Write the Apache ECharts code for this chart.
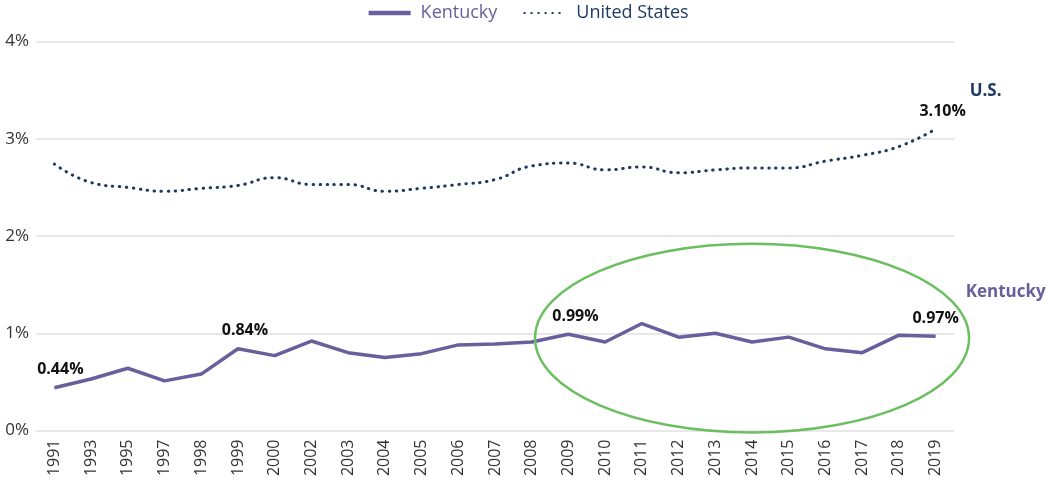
<!DOCTYPE html>
<html>
<head>
<meta charset="utf-8">
<script src="https://cdn.jsdelivr.net/npm/echarts@6/dist/echarts.min.js"></script>
<style>
html,body{margin:0;padding:0;background:#fff;}
#chart{width:1055px;height:487px;}
</style>
</head>
<body>
<div id="chart"></div>
<script>
const years = ['1991','1993','1995','1997','1998','1999','2000','2002','2003','2004','2005','2006','2007','2008','2009','2010','2011','2012','2013','2014','2015','2016','2017','2018','2019'];
const kentucky = [0.44,0.53,0.64,0.51,0.58,0.84,0.77,0.92,0.80,0.75,0.79,0.88,0.89,0.91,0.99,0.91,1.10,0.96,1.00,0.91,0.96,0.84,0.80,0.98,0.97];
const unitedStates = [2.74,2.55,2.50,2.46,2.49,2.52,2.60,2.53,2.53,2.46,2.49,2.53,2.58,2.72,2.75,2.68,2.71,2.65,2.68,2.70,2.70,2.77,2.83,2.92,3.10];
const yTicks = [0,1,2,3,4];
const kyLabelIdx = {0:[6,0], 5:[7,0], 14:[7,0], 24:[0,0]};
const usLabelIdx = {24:[7,0]};

const FONT = 'Open Sans';
const KY = '#6a5e9c';
const US = '#1d3a63';

function withLabels(vals, idxMap){
  return vals.map((v,i)=>{
    if(idxMap[i]){
      return {value:v, label:{show:true, position:'top', distance:10, offset:idxMap[i],
        formatter: (p)=>p.value.toFixed(2)+'%',
        fontFamily:FONT, fontWeight:'bold', fontSize:16, color:'#111'}};
    }
    return v;
  });
}

const chart = echarts.init(document.getElementById('chart'));
chart.setOption({
  animation:false,
  textStyle:{fontFamily:FONT},
  legend:{
    top:-1, left:'center', itemWidth:42, itemHeight:12, itemGap:26,
    textStyle:{fontSize:18, fontFamily:FONT, padding:[0,0,0,5]},
    itemStyle:{color:'rgba(0,0,0,0)', borderWidth:0, opacity:0},
    data:[{name:'Kentucky', textStyle:{color:KY}, lineStyle:{width:4.5}},{name:'United States', textStyle:{color:US}}]
  },
  grid:{left:36, right:101, top:41.5, bottom:56.5, containLabel:false},
  xAxis:{
    type:'category', data:years, boundaryGap:true,
    axisLine:{show:false}, axisTick:{show:false},
    axisLabel:{rotate:90, fontSize:16, color:'#333', margin:9, interval:0, fontFamily:FONT}
  },
  yAxis:{
    type:'value', min:yTicks[0], max:yTicks[yTicks.length-1], interval:1,
    axisLabel:{formatter:'{value}%', fontSize:17, color:'#333', margin:7, fontFamily:FONT},
    splitLine:{lineStyle:{color:'#e0e0e0', width:1.5}},
    axisLine:{show:false}, axisTick:{show:false}
  },
  series:[
    {name:'Kentucky', type:'line', data:withLabels(kentucky, kyLabelIdx), showSymbol:true, showAllSymbol:true,
      symbol:'circle', symbolSize:0,
      lineStyle:{color:KY, width:3.5}, itemStyle:{color:KY}, z:3},
    {name:'United States', type:'line', data:withLabels(unitedStates, usLabelIdx), smooth:true, showSymbol:true, showAllSymbol:true,
      symbol:'circle', symbolSize:0,
      lineStyle:{color:US, width:3, type:[0.5,6.5], cap:'round'}, itemStyle:{color:US}, z:2}
  ]
});

// annotations positioned from data coordinates
const pc = chart.convertToPixel({xAxisIndex:0,yAxisIndex:0},['2014',0.95]);
const pTop = chart.convertToPixel({xAxisIndex:0,yAxisIndex:0},['2014',1.92]);
const pLeft = chart.convertToPixel({xAxisIndex:0,yAxisIndex:0},['2008',0.95]);
const usEnd = chart.convertToPixel({xAxisIndex:0,yAxisIndex:0},['2019',unitedStates[24]]);
const kyEnd = chart.convertToPixel({xAxisIndex:0,yAxisIndex:0},['2019',kentucky[24]]);
chart.setOption({
  graphic:[
    {type:'ellipse', shape:{cx:pc[0], cy:pc[1], rx:(pc[0]-pLeft[0])*0.985, ry:pc[1]-pTop[1]}, silent:true,
      style:{fill:'none', stroke:'#6cbf60', lineWidth:2.5}, z:10},
    {type:'text', left:usEnd[0]+34, top:usEnd[1]-46, style:{text:'U.S.', fill:US, font:'bold 17px "Open Sans"'}},
    {type:'text', left:kyEnd[0]+30, top:kyEnd[1]-53, style:{text:'Kentucky', fill:KY, font:'bold 17px "Open Sans"'}}
  ]
});
</script>
</body>
</html>
